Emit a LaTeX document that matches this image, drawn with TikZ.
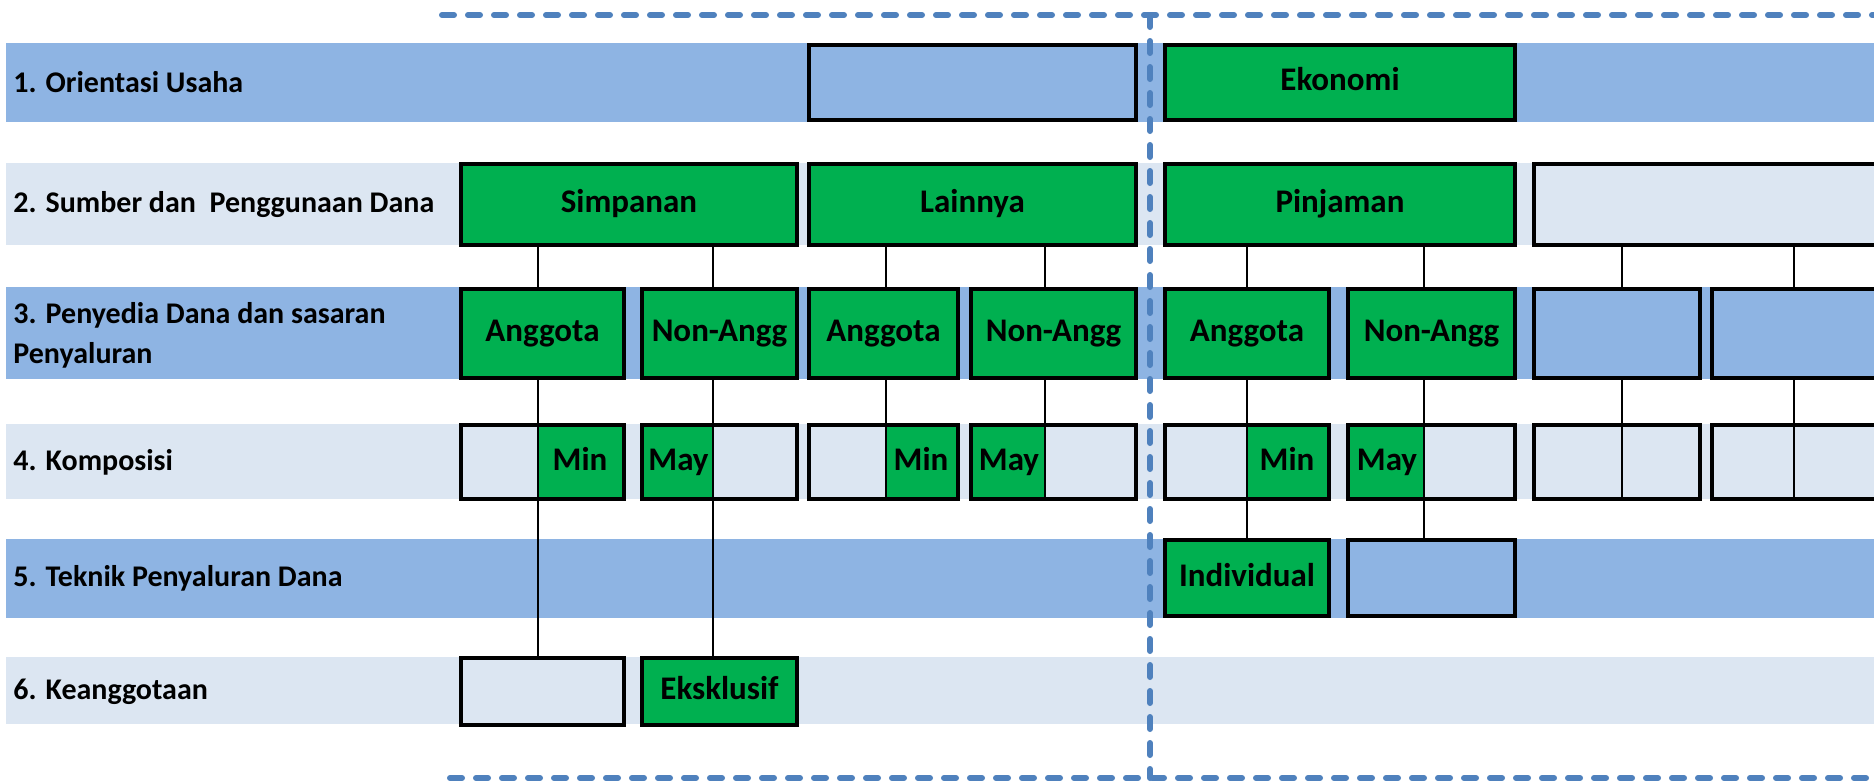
\documentclass[tikz,border=0pt]{standalone}
\usepackage{fontspec}
\setmainfont{Carlito}
\usetikzlibrary{positioning}

\definecolor{kgreen}{HTML}{00B050}
\definecolor{bandblue}{HTML}{8EB4E3}
\definecolor{bandlight}{HTML}{DCE6F2}
\definecolor{framecol}{HTML}{4F81BD}
\newcommand{\cellfont}{\bfseries\fontsize{16.5}{19}\selectfont}
\newcommand{\rowfont}{\bfseries\fontsize{15}{20}\selectfont}

\begin{document}
\begin{tikzpicture}[x=0.5pt,y=-0.5pt]
\tikzstyle{box} = [rectangle, draw=black, line width=2pt, text centered, inner sep=0pt, outer sep=0pt, font=\cellfont, text height=11pt, text depth=3pt]
\tikzstyle{gbox} = [box, fill=kgreen]
\tikzstyle{bbox} = [box, fill=bandblue]
\tikzstyle{lbox} = [box, fill=bandlight]
\tikzstyle{gcell} = [rectangle, fill=kgreen, inner sep=0pt, outer sep=0pt, text centered, font=\cellfont, text height=11pt, text depth=3pt, minimum height=35pt]
\tikzstyle{rowlabel} = [anchor=west, align=left, inner sep=0pt, font=\rowfont]
\tikzstyle{link} = [draw=black, line width=0.6pt]
\tikzstyle{frame} = [draw=framecol, line width=3pt, line cap=round, dash pattern=on 6pt off 7pt]

\useasboundingbox (0,0) rectangle (1874,782);
\clip (0,0) rectangle (1874,782);

% bands
\fill[bandblue] (6,43) rectangle (1874,122);
\fill[bandlight] (6,163) rectangle (1874,245);
\fill[bandblue] (6,287) rectangle (1874,379);
\fill[bandlight] (6,424) rectangle (1874,499);
\fill[bandblue] (6,539) rectangle (1874,618);
\fill[bandlight] (6,657) rectangle (1874,724);

% row labels
\node (Lab1) [rowlabel] at (13,82.5) {1. Orientasi Usaha};
\node (Lab2) [rowlabel] at (13,204.5) {2. Sumber dan~ Penggunaan Dana};
\node (Lab3) [rowlabel] at (13,335) {3. Penyedia Dana dan sasaran\\Penyaluran};
\node (Lab4) [rowlabel] at (13,462) {4. Komposisi};
\node (Lab5) [rowlabel] at (13,578) {5. Teknik Penyaluran Dana};
\node (Lab6) [rowlabel] at (13,691.5) {6. Keanggotaan};

% dashed frame
\coordinate (FrameTL) at (442,15);
\coordinate (FrameTR) at (1880,15);
\coordinate (FrameBL) at (450,778);
\coordinate (FrameBR) at (1880,778);
\coordinate (FrameMid) at (1150,15);
\coordinate (FrameMidB) at (1150,778);
\draw [frame] (FrameTL) -- (FrameTR);
\draw [frame] (FrameBL) -- (FrameBR);
\draw [frame] (FrameMid) -- (FrameMidB);

% 1. orientasi
\node (Orientasi) [bbox, minimum width=163.5pt, minimum height=37.5pt] at (972.5,82.5) {};
\node (Ekonomi) [gbox, minimum width=175pt, minimum height=37.5pt] at (1340,82.5) {Ekonomi};

% 2. sumber dana
\node (Simpanan) [gbox, minimum width=168pt, minimum height=40.5pt] at (629,204.5) {Simpanan};
\node (Lainnya) [gbox, minimum width=163.5pt, minimum height=40.5pt] at (972.5,204.5) {Lainnya};
\node (Pinjaman) [gbox, minimum width=175pt, minimum height=40.5pt] at (1340,204.5) {Pinjaman};
\node (DanaLain) [lbox, minimum width=175pt, minimum height=40.5pt] at (1709,204.5) {};

% 3. penyedia dana
\node (AnggotaA) [gbox, minimum width=81.5pt, minimum height=44.5pt] at (542.5,333.5) {Anggota};
\node (NonAnggA) [gbox, minimum width=77.5pt, minimum height=44.5pt] at (719.5,333.5) {Non-Angg};
\node (AnggotaB) [gbox, minimum width=74.5pt, minimum height=44.5pt] at (883.5,333.5) {Anggota};
\node (NonAnggB) [gbox, minimum width=82.5pt, minimum height=44.5pt] at (1053.5,333.5) {Non-Angg};
\node (AnggotaC) [gbox, minimum width=82pt, minimum height=44.5pt] at (1247,333.5) {Anggota};
\node (NonAnggC) [gbox, minimum width=83.5pt, minimum height=44.5pt] at (1431.5,333.5) {Non-Angg};
\node (PenyediaD) [bbox, minimum width=83pt, minimum height=44.5pt] at (1617,333.5) {};
\node (PenyediaE) [bbox, minimum width=86pt, minimum height=44.5pt] at (1798,333.5) {};

% 4. komposisi
\node (KomA) [lbox, minimum width=81.5pt, minimum height=37pt] at (542.5,462) {};
\node (KomB) [lbox, minimum width=77.5pt, minimum height=37pt] at (719.5,462) {};
\node (KomC) [lbox, minimum width=74.5pt, minimum height=37pt] at (883.5,462) {};
\node (KomD) [lbox, minimum width=82.5pt, minimum height=37pt] at (1053.5,462) {};
\node (KomE) [lbox, minimum width=82pt, minimum height=37pt] at (1247,462) {};
\node (KomF) [lbox, minimum width=83.5pt, minimum height=37pt] at (1431.5,462) {};
\node (KomG) [lbox, minimum width=83pt, minimum height=37pt] at (1617,462) {};
\node (KomH) [lbox, minimum width=86pt, minimum height=37pt] at (1798,462) {};
\node (MinA) [gcell, minimum width=42pt] at (580,462) {Min};
\node (MayA) [gcell, minimum width=34.5pt] at (678.5,462) {May};
\node (MinB) [gcell, minimum width=35pt] at (921,462) {Min};
\node (MayB) [gcell, minimum width=36pt] at (1009,462) {May};
\node (MinC) [gcell, minimum width=40pt] at (1287,462) {Min};
\node (MayC) [gcell, minimum width=37pt] at (1387,462) {May};

% 5. teknik penyaluran
\node (Individual) [gbox, minimum width=82pt, minimum height=38pt] at (1247,578) {Individual};
\node (TeknikLain) [bbox, minimum width=83.5pt, minimum height=38pt] at (1431.5,578) {};

% 6. keanggotaan
\node (KeangA) [lbox, minimum width=81.5pt, minimum height=33.5pt] at (542.5,691.5) {};
\node (Eksklusif) [gbox, minimum width=77.5pt, minimum height=33.5pt] at (719.5,691.5) {Eksklusif};

% links
\coordinate (XA) at (538,0);
\coordinate (XB) at (713,0);
\coordinate (XC) at (886,0);
\coordinate (XD) at (1045,0);
\coordinate (XE) at (1247,0);
\coordinate (XF) at (1424,0);
\coordinate (XG) at (1622,0);
\coordinate (XH) at (1794,0);

\draw [link] (Simpanan.south -| XA) -- (AnggotaA.north -| XA);
\draw [link] (Simpanan.south -| XB) -- (NonAnggA.north -| XB);
\draw [link] (Lainnya.south -| XC) -- (AnggotaB.north -| XC);
\draw [link] (Lainnya.south -| XD) -- (NonAnggB.north -| XD);
\draw [link] (Pinjaman.south -| XE) -- (AnggotaC.north -| XE);
\draw [link] (Pinjaman.south -| XF) -- (NonAnggC.north -| XF);
\draw [link] (DanaLain.south -| XG) -- (PenyediaD.north -| XG);
\draw [link] (DanaLain.south -| XH) -- (PenyediaE.north -| XH);

\draw [link] (AnggotaA.south -| XA) -- (KeangA.north -| XA);
\draw [link] (NonAnggA.south -| XB) -- (Eksklusif.north -| XB);
\draw [link] (AnggotaB.south -| XC) -- (KomC.south -| XC);
\draw [link] (NonAnggB.south -| XD) -- (KomD.south -| XD);
\draw [link] (AnggotaC.south -| XE) -- (Individual.north -| XE);
\draw [link] (NonAnggC.south -| XF) -- (TeknikLain.north -| XF);
\draw [link] (PenyediaD.south -| XG) -- (KomG.south -| XG);
\draw [link] (PenyediaE.south -| XH) -- (KomH.south -| XH);

\end{tikzpicture}
\end{document}
